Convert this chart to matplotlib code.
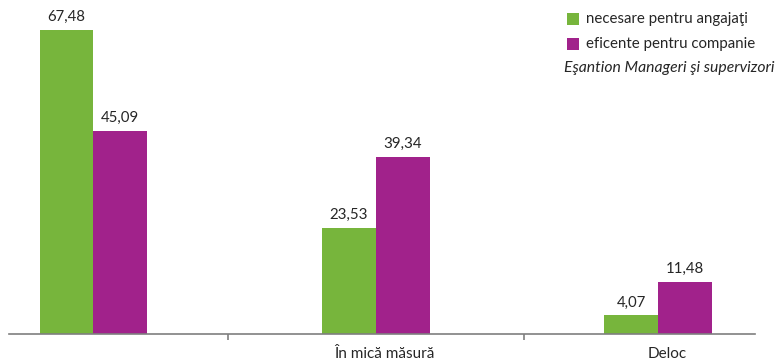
import matplotlib
matplotlib.use("Agg")
import matplotlib.pyplot as plt
from matplotlib.patches import Rectangle
import numpy as np

# Data
categories = ["", "În mică măsură", "Deloc"]
necesare = [67.48, 23.53, 4.07]
eficente = [45.09, 39.34, 11.48]
series_names = ["necesare pentru angajaţi", "eficente pentru companie"]
note = "Eşantion Manageri şi supervizori"

GREEN = "#77B53C"
PURPLE = "#A1228B"
AXIS_GRAY = "#7F7F7F"
TEXT = "#262626"
FONT = "Lato"

plt.rcParams["font.family"] = [FONT, "DejaVu Sans"]

W, H = 776, 360
fig = plt.figure(figsize=(W / 100, H / 100), dpi=100)
ax = fig.add_axes([9 / W, (H - 333.5) / H, 746 / W, (333.5 - 18.6) / H])

x = np.arange(len(categories))
bw = 0.191
b1 = ax.bar(x - bw / 2, necesare, bw, color=GREEN, linewidth=0)
b2 = ax.bar(x + bw / 2, eficente, bw, color=PURPLE, linewidth=0)

def fmt(v):
    return f"{v:.2f}".replace(".", ",")

for bars, vals in ((b1, necesare), (b2, eficente)):
    for rect, v in zip(bars, vals):
        ax.annotate(fmt(v), (rect.get_x() + rect.get_width() / 2, v),
                    xytext=(0, 4), textcoords="offset points",
                    ha="center", va="bottom", fontsize=10.8, color=TEXT)

ax.set_xlim(-0.299, 2.342)
ax.set_ylim(0, 70)

for s in ("top", "right", "left"):
    ax.spines[s].set_visible(False)
ax.spines["bottom"].set_color(AXIS_GRAY)
ax.spines["bottom"].set_linewidth(1.2)
ax.set_yticks([])

# boundary ticks between categories, labels slightly to the right of group centres
ax.set_xticks([0.476, 1.524])
ax.set_xticklabels([])
ax.tick_params(axis="x", which="major", length=4, width=1.2, color=AXIS_GRAY)
ax.set_xticks(x + 0.03, minor=True)
ax.set_xticklabels(categories, minor=True, fontsize=11, color=TEXT)
ax.tick_params(axis="x", which="minor", length=0, pad=10)

# legend
def px(xp, yp):
    return xp / W, 1 - yp / H

for (col, name, yc) in ((GREEN, series_names[0], 19), (PURPLE, series_names[1], 44)):
    fig.add_artist(Rectangle(px(567, yc + 6), 12 / W, 12 / H,
                             transform=fig.transFigure, color=col, linewidth=0))
    fig.text(*px(586, yc), name, ha="left", va="center", fontsize=10.8, color=TEXT)
fig.text(*px(564, 68), note, ha="left", va="center", fontsize=11.3,
         style="italic", color=TEXT)

fig.savefig("out.png", dpi=100)
